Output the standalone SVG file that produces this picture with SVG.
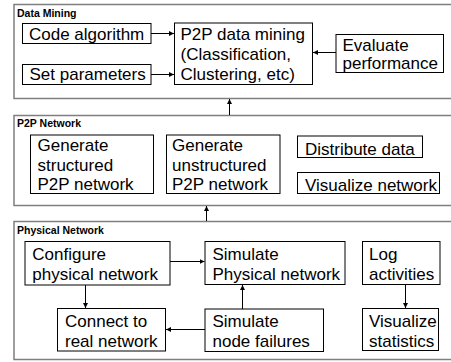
<svg xmlns="http://www.w3.org/2000/svg" width="451" height="362" viewBox="0 0 451 362">
<defs>
<marker id="ah" markerWidth="6" markerHeight="6" refX="5" refY="3" orient="auto" markerUnits="userSpaceOnUse">
<path d="M0,0.5 L5,3 L0,5.5 Z" fill="#000"/>
</marker>
<style>
.grp{fill:#fff;stroke:#7f7f7f;stroke-width:1.5}
.box{fill:#fff;stroke:#000;stroke-width:1}
.title{font-family:"Liberation Sans",Arial,sans-serif;font-size:10.5px;font-weight:bold;fill:#000}
.t{font-family:"Liberation Sans",Arial,sans-serif;font-size:17px;fill:#000}
.c{fill:none;stroke:#000;stroke-width:1;marker-end:url(#ah)}
</style>
</defs>
<rect width="451" height="362" fill="#fff"/>
<g id="dataMining">
<rect class="grp" x="14" y="4.5" width="440" height="94"/>
<text class="title" x="17" y="17.3">Data Mining</text>
</g>
<g id="p2pNetwork">
<rect class="grp" x="14" y="115.5" width="440" height="90"/>
<text class="title" x="17" y="127.3">P2P Network</text>
</g>
<g id="physicalNetwork">
<rect class="grp" x="14" y="221.5" width="440" height="138"/>
<text class="title" x="17" y="234">Physical Network</text>
</g>
<g id="codeAlgorithm">
<rect class="box" x="22.5" y="23.5" width="128.5" height="20"/>
<text class="t" x="29" y="39.5">Code algorithm</text>
</g>
<g id="setParameters">
<rect class="box" x="22.5" y="64.5" width="128.5" height="20"/>
<text class="t" x="29.5" y="80">Set parameters</text>
</g>
<g id="p2pDataMining">
<rect class="box" x="174.5" y="23" width="138" height="61.5"/>
<text class="t" x="180.5" y="40">P2P data mining</text>
<text class="t" x="180.5" y="60">(Classification,</text>
<text class="t" x="180.5" y="80">Clustering, etc)</text>
</g>
<g id="evaluatePerformance">
<rect class="box" x="336" y="34.5" width="107.5" height="38"/>
<text class="t" x="342.5" y="51">Evaluate</text>
<text class="t" x="342.5" y="68.5">performance</text>
</g>
<g id="genStructured">
<rect class="box" x="30.5" y="135" width="123" height="58.5"/>
<text class="t" x="37.5" y="151">Generate</text>
<text class="t" x="37.5" y="170.5">structured</text>
<text class="t" x="37.5" y="190">P2P network</text>
</g>
<g id="genUnstructured">
<rect class="box" x="166.5" y="135" width="113.5" height="58.5"/>
<text class="t" x="172" y="151">Generate</text>
<text class="t" x="172" y="170.5">unstructured</text>
<text class="t" x="172" y="190">P2P network</text>
</g>
<g id="distributeData">
<rect class="box" x="297.5" y="136" width="125" height="21.5"/>
<text class="t" x="305" y="155">Distribute data</text>
</g>
<g id="visualizeNetwork">
<rect class="box" x="297.5" y="172.5" width="142" height="21"/>
<text class="t" x="305" y="190.5">Visualize network</text>
</g>
<g id="configurePhysical">
<rect class="box" x="25" y="241.5" width="145" height="43.5"/>
<text class="t" x="32.3" y="259.5">Configure</text>
<text class="t" x="32.3" y="280">physical network</text>
</g>
<g id="simulatePhysical">
<rect class="box" x="205" y="241.5" width="140" height="43"/>
<text class="t" x="212.5" y="259.5">Simulate</text>
<text class="t" x="212.5" y="280">Physical network</text>
</g>
<g id="logActivities">
<rect class="box" x="362.5" y="241.5" width="77.5" height="43"/>
<text class="t" x="369" y="259.5">Log</text>
<text class="t" x="369" y="280">activities</text>
</g>
<g id="connectReal">
<rect class="box" x="57.5" y="308.5" width="108" height="42.5"/>
<text class="t" x="65" y="326.5">Connect to</text>
<text class="t" x="65" y="346.5">real network</text>
</g>
<g id="simulateFailures">
<rect class="box" x="205" y="309" width="118.5" height="42.5"/>
<text class="t" x="212.5" y="326.5">Simulate</text>
<text class="t" x="212.5" y="346.5">node failures</text>
</g>
<g id="visualizeStatistics">
<rect class="box" x="362.5" y="308.5" width="76" height="42"/>
<text class="t" x="369" y="326.5">Visualize</text>
<text class="t" x="369" y="346.5">statistics</text>
</g>
<g id="connectors">
<line class="c" x1="151" y1="33.5" x2="174" y2="33.5"/>
<line class="c" x1="151" y1="74.5" x2="174" y2="74.5"/>
<line class="c" x1="336" y1="52.5" x2="313" y2="52.5"/>
<line class="c" x1="229.5" y1="115" x2="229.5" y2="99"/>
<line class="c" x1="206.5" y1="221" x2="206.5" y2="206"/>
<line class="c" x1="170" y1="261.5" x2="204.5" y2="261.5"/>
<line class="c" x1="85.5" y1="285" x2="85.5" y2="308"/>
<line class="c" x1="205" y1="329.5" x2="166" y2="329.5"/>
<line class="c" x1="242.5" y1="309" x2="242.5" y2="285"/>
<line class="c" x1="405.5" y1="284.5" x2="405.5" y2="308"/>
</g>
</svg>
